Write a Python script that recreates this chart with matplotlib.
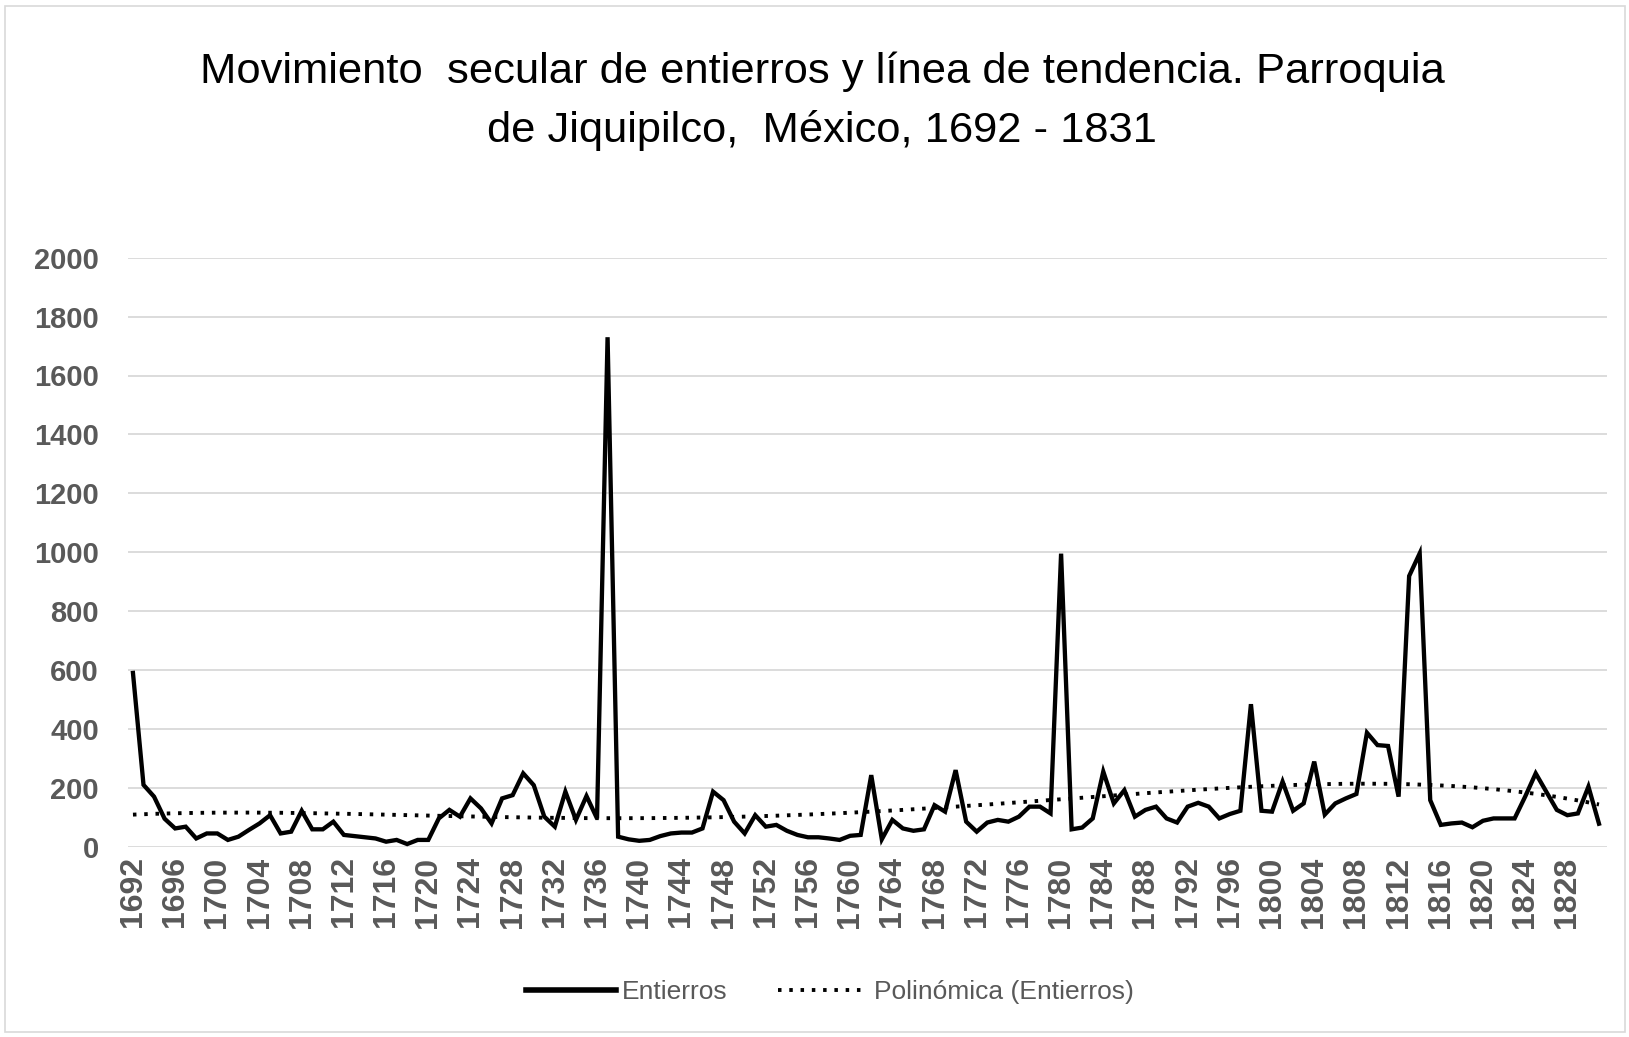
import numpy as np
import matplotlib
matplotlib.use("Agg")
import matplotlib.pyplot as plt
from matplotlib.lines import Line2D
from matplotlib.patches import Rectangle

# --- data ---
years = list(range(1692, 1832))
entierros = [
    590, 210, 170, 95, 62, 68, 28, 45, 45, 23,       # 1692-1701
    34, 57, 79, 107, 45, 51, 122, 59, 59, 85,        # 1702-1711
    40, 36, 32, 28, 17, 23, 9, 23, 23, 96,           # 1712-1721
    125, 102, 164, 130, 79, 164, 175, 249, 209, 102, # 1722-1731
    68, 187, 91, 172, 96, 1730, 34, 25, 20, 23,      # 1732-1741
    36, 45, 48, 48, 62, 187, 158, 85, 45, 107,       # 1742-1751
    68, 74, 54, 40, 32, 32, 28, 23, 37, 40,          # 1752-1761
    243, 25, 91, 62, 54, 59, 141, 119, 260, 85,      # 1762-1771
    51, 82, 91, 85, 102, 136, 136, 113, 995, 59,     # 1772-1781
    65, 96, 255, 147, 192, 102, 125, 136, 96, 82,    # 1782-1791
    136, 149, 136, 96, 111, 122, 484, 122, 119, 221, # 1792-1801
    122, 147, 289, 109, 147, 164, 179, 387, 345, 342,# 1802-1811
    170, 919, 996, 158, 74, 79, 82, 66, 88, 96,      # 1812-1821
    96, 96, 170, 249, 187, 125, 107, 113, 204, 78,   # 1822-1831
]
title_1 = "Movimiento  secular de entierros y línea de tendencia. Parroquia"
title_2 = "de Jiquipilco,  México, 1692 - 1831"
legend_labels = ["Entierros", "Polinómica (Entierros)"]
yticks = list(range(0, 2001, 200))

W, H = 1629, 1037
GRAY = "#595959"
GRID = "#d9d9d9"
DOTS = (0, (0.9, 2.0))

fig = plt.figure(figsize=(W / 100, H / 100), dpi=100)
fig.patch.set_facecolor("white")
fig.patches.append(Rectangle((5 / W, 5 / H), 1620 / W, 1026 / H, transform=fig.transFigure,
                             fill=False, edgecolor=GRID, lw=1.2))

ax = fig.add_axes([128 / W, (H - 846.7) / H, (1607 - 128) / W, (846.7 - 257.7) / H])

# polynomial trend line (Excel "Polinómica", order 4)
xs = np.arange(1, len(years) + 1, dtype=float)
coef = np.polyfit(xs, np.array(entierros, dtype=float), 4)
trend = np.polyval(coef, xs)

ax.plot(years, entierros, color="black", lw=3.1, solid_joinstyle="miter", zorder=3)
ax.plot(years, trend, color="black", lw=2.8, linestyle=DOTS, zorder=2)

ax.set_xlim(1691.53, 1831.76)
ax.set_ylim(0, 2000)
ax.set_yticks(yticks)
ax.set_xticks(years[::4])
ax.set_xticklabels([str(y) for y in years[::4]], rotation=90)
ax.grid(axis="y", color=GRID, lw=1.3)
ax.set_axisbelow(True)
for s in ax.spines.values():
    s.set_visible(False)
ax.tick_params(axis="both", length=0, colors=GRAY)
ax.tick_params(axis="y", pad=21)
ax.tick_params(axis="x", pad=7)
for lab in ax.get_yticklabels():
    lab.set_fontfamily("Liberation Sans")
    lab.set_fontweight("bold")
    lab.set_fontsize(21)
for lab in ax.get_xticklabels():
    lab.set_fontfamily("Liberation Sans")
    lab.set_fontweight("bold")
    lab.set_fontsize(23)

# title, two lines; first line sized to the reference width
renderer = fig.canvas.get_renderer()
t1 = fig.text(822 / W, 1 - 83 / H, title_1, ha="center", va="baseline",
              family="Liberation Sans", fontsize=30, color="black")
t2 = fig.text(822 / W, 1 - 142 / H, title_2, ha="center", va="baseline",
              family="Liberation Sans", fontsize=30, color="black")
fs = 30 * 1241 / t1.get_window_extent(renderer).width
t1.set_fontsize(fs)
t2.set_fontsize(fs)

handles = [Line2D([], [], color="black", lw=4),
           Line2D([], [], color="black", lw=2.8, linestyle=DOTS)]
leg = fig.legend(handles, legend_labels, loc="center",
                 bbox_to_anchor=(830 / W, 1 - 992 / H), ncol=2, frameon=False,
                 handlelength=3.4, handletextpad=0.25, columnspacing=1.9,
                 prop={"family": "Liberation Sans", "size": 19})
for txt in leg.get_texts():
    txt.set_color(GRAY)

fig.savefig("out.png", dpi=100, facecolor="white")
